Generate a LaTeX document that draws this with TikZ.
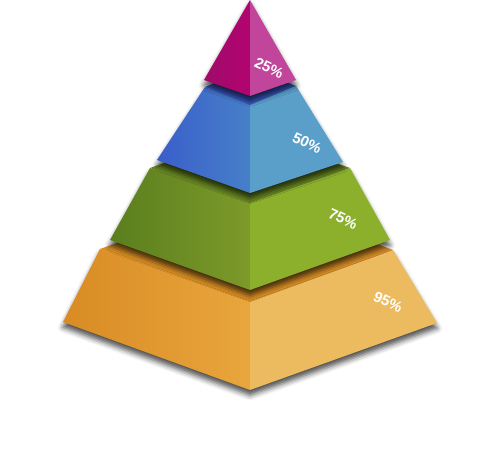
\documentclass[tikz,border=0pt]{standalone}
\usepackage{fontspec}
\newfontfamily\labelfont{Liberation Sans}
\usetikzlibrary{shadows.blur}
% tier colours
\definecolor{orangetop}{HTML}{D98F24}
\definecolor{orangelefta}{HTML}{D98B24}
\definecolor{orangeleftb}{HTML}{E8A63C}
\definecolor{orangeright}{HTML}{EDBB5F}
\definecolor{greentop}{HTML}{6C8C22}
\definecolor{greenlefta}{HTML}{5A7E1E}
\definecolor{greenleftb}{HTML}{7D9A2A}
\definecolor{greenright}{HTML}{8DB02C}
\definecolor{bluetop}{HTML}{3B5CCF}
\definecolor{bluelefta}{HTML}{3A5ECB}
\definecolor{blueleftb}{HTML}{4680C8}
\definecolor{blueright}{HTML}{5A9FCA}
\definecolor{pinktop}{HTML}{A8086C}
\definecolor{pinklefta}{HTML}{A00A6A}
\definecolor{pinkleftb}{HTML}{B2046F}
\definecolor{pinkright}{HTML}{C1459A}
\begin{document}
\begin{tikzpicture}[
    x=0.02cm, y=-0.02cm,
    pct/.style={text=white, font=\labelfont\bfseries\fontsize{8.5}{10}\selectfont, rotate=-25, inner sep=0pt},
    tiershadow/.style={blur shadow={shadow xshift=0pt, shadow yshift=-3pt, shadow blur radius=3pt, shadow opacity=70}}
]
\useasboundingbox (0,0) rectangle (500,459);

% corners of each tier: top left/front/right/back, bottom left/front/right
\coordinate (orange-tl) at (100,249); \coordinate (orange-tf) at (250,302);
\coordinate (orange-tr) at (393,250); \coordinate (orange-tb) at (250,197);
\coordinate (orange-bl) at (63,322);  \coordinate (orange-bf) at (250,390);
\coordinate (orange-br) at (437,323);

\coordinate (green-tl) at (150,168); \coordinate (green-tf) at (250,203);
\coordinate (green-tr) at (350,168); \coordinate (green-tb) at (250,133);
\coordinate (green-bl) at (110,240); \coordinate (green-bf) at (250,290);
\coordinate (green-br) at (390,240);

\coordinate (blue-tl) at (205,87);  \coordinate (blue-tf) at (250,105);
\coordinate (blue-tr) at (296,86);  \coordinate (blue-tb) at (250,68);
\coordinate (blue-bl) at (157,160); \coordinate (blue-bf) at (250,193);
\coordinate (blue-br) at (343,162);

\coordinate (pink-tl) at (250,0); \coordinate (pink-tf) at (250,0);
\coordinate (pink-tr) at (250,0); \coordinate (pink-tb) at (250,0);
\coordinate (pink-bl) at (204,80); \coordinate (pink-bf) at (250,96);
\coordinate (pink-br) at (296,80);

\foreach \tier in {orange, green, blue, pink} {
  \path[tiershadow] (\tier-tl) -- (\tier-bl) -- (\tier-bf) -- (\tier-br) -- (\tier-tr) -- (\tier-tb) -- cycle;
  \fill[\tier top] (\tier-tl) -- (\tier-tb) -- (\tier-tr) -- (\tier-tf) -- cycle;
  \shade[left color=\tier lefta, right color=\tier leftb] (\tier-tl) -- (\tier-tf) -- (\tier-bf) -- (\tier-bl) -- cycle;
  \fill[\tier right] (\tier-tf) -- (\tier-tr) -- (\tier-br) -- (\tier-bf) -- cycle;
}

\node[pct] (p25) at (269,68) {25\%};
\node[pct] (p50) at (307,143) {50\%};
\node[pct] (p75) at (343,219) {75\%};
\node[pct] (p95) at (388,302) {95\%};
\end{tikzpicture}
\end{document}
